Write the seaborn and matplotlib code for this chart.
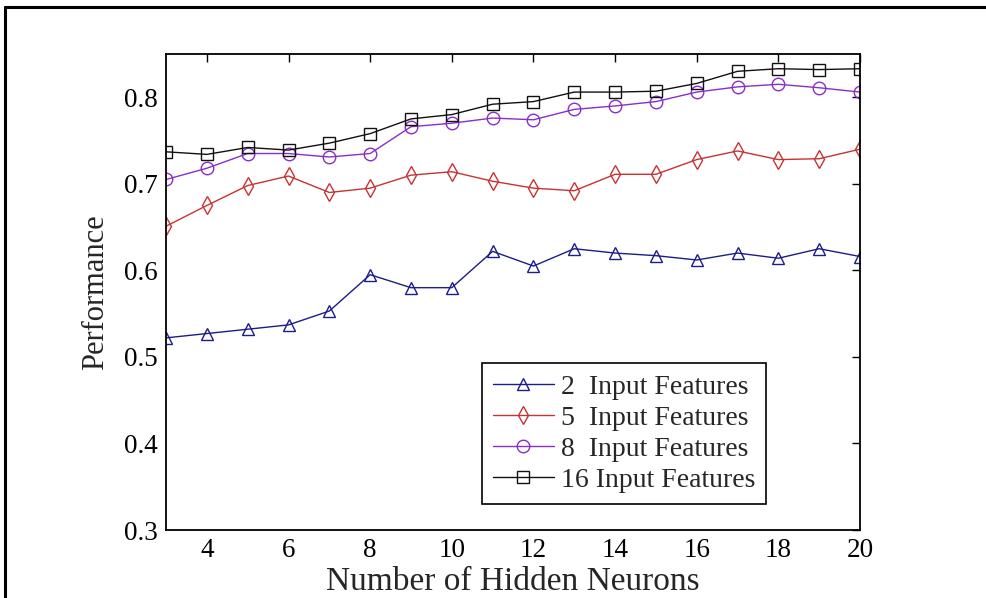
import matplotlib
matplotlib.use("Agg")
import matplotlib.pyplot as plt
import seaborn as sns
from matplotlib.lines import Line2D

# данные
neurons = [3, 4, 5, 6, 7, 8, 9, 10, 11, 12, 13, 14, 15, 16, 17, 18, 19, 20]
perf_2 = [0.522, 0.527, 0.532, 0.537, 0.553, 0.595, 0.580, 0.580, 0.622, 0.605,
          0.625, 0.620, 0.617, 0.612, 0.620, 0.614, 0.625, 0.616]
perf_5 = [0.651, 0.675, 0.698, 0.709, 0.690, 0.695, 0.710, 0.714, 0.703, 0.695,
          0.692, 0.711, 0.711, 0.728, 0.738, 0.728, 0.729, 0.740]
perf_8 = [0.705, 0.718, 0.735, 0.735, 0.731, 0.735, 0.766, 0.770, 0.776, 0.774,
          0.786, 0.790, 0.795, 0.806, 0.812, 0.815, 0.811, 0.806]
perf_16 = [0.737, 0.734, 0.742, 0.739, 0.747, 0.758, 0.775, 0.780, 0.792, 0.795,
           0.806, 0.806, 0.807, 0.816, 0.830, 0.833, 0.832, 0.833]
labels = ['2  Input Features', '5  Input Features', '8  Input Features', '16 Input Features']

sns.set_style("white")
plt.rcParams['font.family'] = ['Liberation Serif', 'DejaVu Serif']

fig = plt.figure(figsize=(9.86, 5.98), dpi=100)
ax = fig.add_axes([0.1684, 0.1137, 0.7038, 0.7960])

series = [perf_2, perf_5, perf_8, perf_16]
colors = ['#1c1c8a', '#c83232', '#8a2ec8', '#111111']
markers = ['^', 'd', 'o', 's']

# рисуем четыре кривые с пустыми маркерами
for vals, col, mk, lab in zip(series, colors, markers, labels):
    sns.lineplot(x=neurons, y=vals, ax=ax, color=col, linewidth=1.0,
                 marker=mk, markersize=9, markerfacecolor='none',
                 markeredgecolor=col, markeredgewidth=1.0, label=lab)

ax.set_xlim(3, 20)
ax.set_ylim(0.3, 0.85)
ax.set_xticks([4, 6, 8, 10, 12, 14, 16, 18, 20])
ax.set_yticks([0.3, 0.4, 0.5, 0.6, 0.7, 0.8])
ax.tick_params(direction='in', length=6, width=1, top=True, right=True,
               labelsize=19.5, pad=6, colors='black')
for sp in ax.spines.values():
    sp.set_visible(True)
    sp.set_color('black')
    sp.set_linewidth(1.3)

ax.set_xlabel('Number of Hidden Neurons', fontsize=24, labelpad=2)
ax.set_ylabel('Performance', fontsize=22, labelpad=10)

leg = ax.legend(loc='lower left', bbox_to_anchor=(0.455, 0.055), fontsize=20,
                frameon=True, fancybox=False, framealpha=1, edgecolor='black',
                handlelength=2.2, handletextpad=0.25, labelspacing=0.2,
                borderpad=0.4, borderaxespad=0)
leg.get_frame().set_linewidth(1.2)

# рамка по краю картинки (верх и лево)
fig.add_artist(Line2D([0.005, 1.0], [0.988, 0.988], transform=fig.transFigure,
                      color='black', linewidth=2.2))
fig.add_artist(Line2D([0.005, 0.005], [0.0, 0.988], transform=fig.transFigure,
                      color='black', linewidth=2.2))

fig.savefig('out.png', dpi=100)
